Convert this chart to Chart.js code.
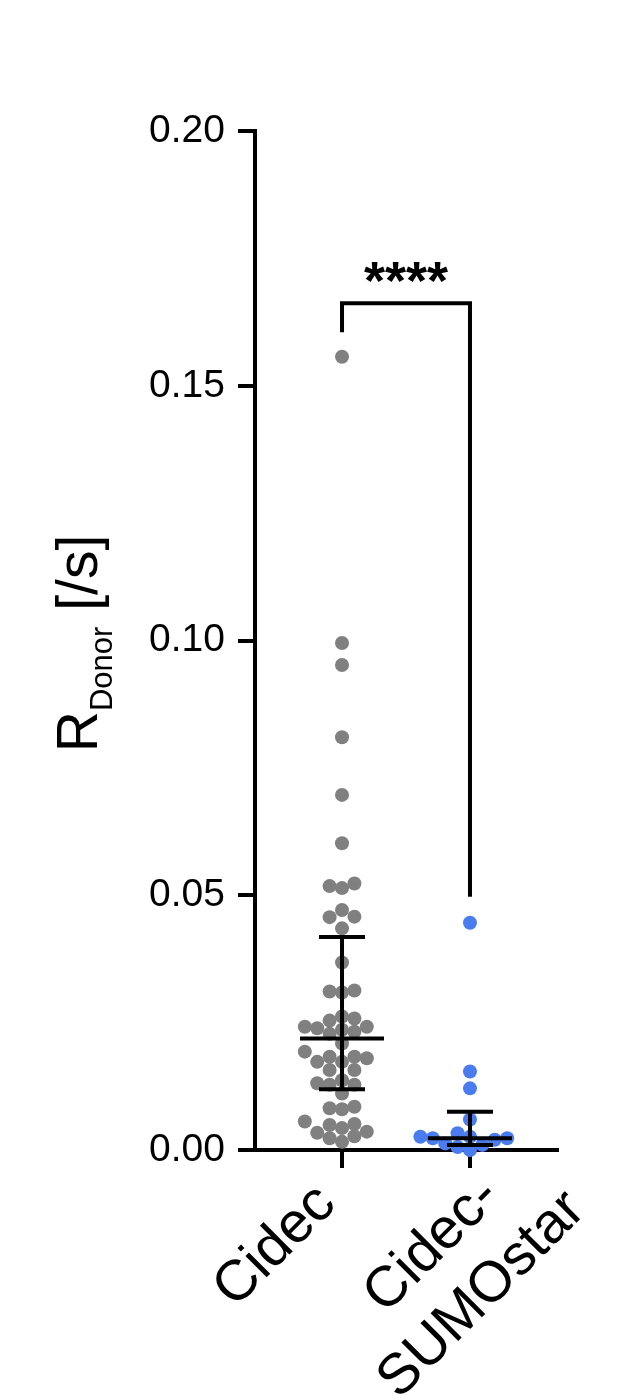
<!DOCTYPE html>
<html>
<head>
<meta charset="utf-8">
<script src="https://cdn.jsdelivr.net/npm/chart.js@4.4.0/dist/chart.umd.min.js"></script>
<style>
  html, body { margin: 0; padding: 0; background: #fff; }
  canvas { display: block; }
</style>
</head>
<body>
<canvas id="chart" width="625" height="1400"></canvas>
<script>
// values (R_Donor, 1/s)
const categories = [['Cidec'], ['Cidec-', 'SUMOstar']];
const groupPositions = [1, 2];
const cidecValues = [
  0.1557, 0.0995, 0.0952, 0.0810, 0.0697, 0.0602,
  0.0523, 0.0518, 0.0514, 0.0471, 0.0458, 0.0457, 0.0435, 0.0368,
  0.0313, 0.0311, 0.0309, 0.0262, 0.0258, 0.0254,
  0.0242, 0.0239, 0.0242, 0.0236, 0.0232, 0.0228, 0.0209,
  0.0193, 0.0183, 0.0183, 0.0180, 0.0173, 0.0173, 0.0157, 0.0157,
  0.0137, 0.0131, 0.0128, 0.0128, 0.0111, 0.0085, 0.0082, 0.0080,
  0.0056, 0.0051, 0.0049, 0.0043, 0.0036, 0.0034, 0.0027, 0.0023, 0.0016
];
const sumoValues = [
  0.0446, 0.0154, 0.0121, 0.0060,
  0.0033, 0.0026, 0.0026, 0.0023, 0.0023, 0.0020, 0.0013, 0.0010, 0.0006, 0.0000
];
const medians = [0.0219, 0.0023];
const lowerBars = [0.0119, 0.0010];
const upperBars = [0.0418, 0.0075];
const yTicks = [0, 0.05, 0.10, 0.15, 0.20];
const bracketTop = 0.1662;
const bracketLegEnds = [0.1605, 0.0497];
const significance = '****';

const FONT = '"Liberation Sans", Arial, Helvetica, sans-serif';
const colors = ['#808080', '#4a7cf0'];

const errorBars = {
    id: 'errorBars',
    afterDatasetsDraw(chart) {
        const ctx = chart.ctx;
        const xs = chart.scales.x;
        const ys = chart.scales.y;
        ctx.save();
        ctx.strokeStyle = '#000';
        ctx.lineWidth = 4;
        groupPositions.forEach((pos, i) => {
            const cx = xs.getPixelForValue(pos);
            const yMed = ys.getPixelForValue(medians[i]);
            const yLo = ys.getPixelForValue(lowerBars[i]);
            const yHi = ys.getPixelForValue(upperBars[i]);
            ctx.beginPath();
            // median line
            ctx.moveTo(cx - 42, yMed); ctx.lineTo(cx + 42, yMed);
            // whisker
            ctx.moveTo(cx, yLo); ctx.lineTo(cx, yHi);
            // caps
            ctx.moveTo(cx - 23, yLo); ctx.lineTo(cx + 23, yLo);
            ctx.moveTo(cx - 23, yHi); ctx.lineTo(cx + 23, yHi);
            ctx.stroke();
        });
        ctx.restore();
    }
};

const bracket = {
    id: 'bracket',
    afterDatasetsDraw(chart) {
        const ctx = chart.ctx;
        const xs = chart.scales.x;
        const ys = chart.scales.y;
        const x1 = xs.getPixelForValue(groupPositions[0]);
        const x2 = xs.getPixelForValue(groupPositions[1]);
        const yTop = ys.getPixelForValue(bracketTop);
        ctx.save();
        ctx.strokeStyle = '#000';
        ctx.lineWidth = 4;
        ctx.lineJoin = 'miter';
        ctx.beginPath();
        ctx.moveTo(x1, ys.getPixelForValue(bracketLegEnds[0]));
        ctx.lineTo(x1, yTop);
        ctx.lineTo(x2, yTop);
        ctx.lineTo(x2, ys.getPixelForValue(bracketLegEnds[1]));
        ctx.stroke();
        ctx.fillStyle = '#000';
        ctx.font = 'bold 54px ' + FONT;
        ctx.textAlign = 'center';
        ctx.textBaseline = 'alphabetic';
        ctx.fillText(significance, (x1 + x2) / 2, yTop - 4);
        ctx.restore();
    }
};

const axisTexts = {
    id: 'axisTexts',
    afterDraw(chart) {
        const ctx = chart.ctx;
        const xs = chart.scales.x;
        const ys = chart.scales.y;
        ctx.save();
        ctx.fillStyle = '#000';

        // y title: R with subscript Donor, then [/s]
        const parts = [
            { text: 'R', size: 57, shift: 0 },
            { text: 'Donor', size: 31, shift: 15 },
            { text: ' [/s]', size: 57, shift: 0 }
        ];
        let total = 0;
        parts.forEach(p => {
            ctx.font = p.size + 'px ' + FONT;
            p.width = ctx.measureText(p.text).width;
            total += p.width;
        });
        const midY = (ys.top + ys.bottom) / 2 + 3;
        ctx.translate(97, midY);
        ctx.rotate(-Math.PI / 2);
        let x = -total / 2;
        ctx.textAlign = 'left';
        ctx.textBaseline = 'alphabetic';
        parts.forEach(p => {
            ctx.font = p.size + 'px ' + FONT;
            ctx.fillText(p.text, x, p.shift);
            x += p.width;
        });
        ctx.setTransform(1, 0, 0, 1, 0, 0);

        // x category labels, rotated 45 degrees, lines centred
        const lineHeight = 70;
        ctx.font = '57px ' + FONT;
        ctx.textAlign = 'center';
        categories.forEach((lines, i) => {
            const widths = lines.map(l => ctx.measureText(l).width);
            const w0 = widths[0];
            const maxW = Math.max(...widths);
            const extra = (lines.length - 1) * 20;
            const tx = xs.getPixelForValue(groupPositions[i]);
            ctx.save();
            ctx.translate(tx - 4, xs.top + 56);
            ctx.rotate(-Math.PI / 4);
            const cxLocal = maxW / 2 - w0 - extra;
            lines.forEach((line, j) => {
                ctx.fillText(line, cxLocal, j * lineHeight + extra);
            });
            ctx.restore();
        });
        ctx.restore();
    }
};

const ctx = document.getElementById('chart').getContext('2d');
const chart = new Chart(ctx, {
    type: 'scatter',
    data: {
        datasets: [cidecValues, sumoValues].map((values, i) => ({
            data: values.map(v => ({ x: groupPositions[i], y: v })),
            backgroundColor: colors[i],
            borderWidth: 0,
            pointRadius: 7,
            pointHoverRadius: 7,
            clip: false
        }))
    },
    options: {
        responsive: false,
        animation: false,
        devicePixelRatio: 1,
        layout: { padding: { top: 131, right: 68, left: 0, bottom: 0 } },
        plugins: {
            legend: { display: false },
            tooltip: { enabled: false }
        },
        scales: {
            x: {
                type: 'linear',
                min: 0.32,
                max: 2.68,
                afterBuildTicks: scale => {
                    scale.ticks = groupPositions.map(v => ({ value: v }));
                },
                afterFit: scale => { scale.height = 250; },
                ticks: { display: false },
                grid: { drawOnChartArea: false, tickLength: 18, lineWidth: 4, color: '#000' },
                border: { width: 4, color: '#000' }
            },
            y: {
                min: 0,
                max: 0.2,
                afterBuildTicks: scale => {
                    scale.ticks = yTicks.map(v => ({ value: v }));
                },
                afterFit: scale => { scale.width = 255; },
                ticks: {
                    callback: v => v.toFixed(2),
                    font: { family: FONT, size: 39 },
                    color: '#000',
                    padding: 13
                },
                grid: { drawOnChartArea: false, tickLength: 17, lineWidth: 4, color: '#000' },
                border: { width: 4, color: '#000' }
            }
        }
    },
    plugins: [errorBars, bracket, axisTexts]
});

// spread the dots sideways like a beeswarm, from their pixel heights
function swarm(values, pos) {
    const xs = chart.scales.x;
    const ys = chart.scales.y;
    const pxPerUnit = xs.getPixelForValue(1) - xs.getPixelForValue(0);
    const minDist = 12.2;
    const step = 12.4;
    const placed = [];
    return values
        .map(v => ({ v, py: ys.getPixelForValue(v) }))
        .sort((a, b) => a.v - b.v)
        .map(p => {
            let k = 0;
            for (let n = 0; n < 40; n++) {
                k = n === 0 ? 0 : (n % 2 ? -Math.ceil(n / 2) : Math.ceil(n / 2));
                const px = k * step;
                const hit = placed.some(q => {
                    const dy = p.py - q.py;
                    const dx = px - q.px;
                    return dx * dx + dy * dy < minDist * minDist;
                });
                if (!hit) break;
            }
            placed.push({ px: k * step, py: p.py });
            return { x: pos + (k * step) / pxPerUnit, y: p.v };
        });
}

chart.data.datasets[0].data = swarm(cidecValues, groupPositions[0]);
chart.data.datasets[1].data = swarm(sumoValues, groupPositions[1]);
chart.update('none');
</script>
</body>
</html>
